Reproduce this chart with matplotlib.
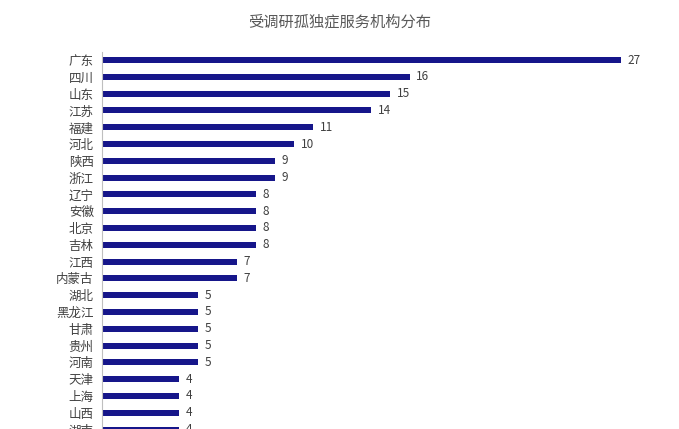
import matplotlib
matplotlib.use('Agg')
import matplotlib.pyplot as plt

plt.rcParams['font.family'] = ['Noto Sans CJK SC', 'DejaVu Sans']

provinces = ['广东', '四川', '山东', '江苏', '福建', '河北', '陕西', '浙江', '辽宁', '安徽',
             '北京', '吉林', '江西', '内蒙古', '湖北', '黑龙江', '甘肃', '贵州', '河南',
             '天津', '上海', '山西', '湖南']
counts = [27, 16, 15, 14, 11, 10, 9, 9, 8, 8, 8, 8, 7, 7, 5, 5, 5, 5, 5, 4, 4, 4, 4]

W, H = 679, 429
fig = plt.figure(figsize=(W / 100, H / 100), dpi=100)
top_px, bot_px = 51.6, 438.0
ax = fig.add_axes([102 / W, (H - bot_px) / H, 519 / W, (bot_px - top_px) / H])

y = list(range(len(provinces)))
ax.barh(y, counts, height=0.36, color='#16168a')
ax.set_xlim(0, 27)
ax.set_ylim(len(provinces) - 0.5, -0.5)
ax.set_yticks(y)
ax.set_yticklabels(provinces, fontsize=9, color='#404040')
ax.tick_params(axis='y', length=0, pad=6)
ax.set_xticks([])
for s in ['top', 'right', 'bottom']:
    ax.spines[s].set_visible(False)
ax.spines['left'].set_color('#bfbfbf')

for yi, v in zip(y, counts):
    ax.text(v + 0.35, yi, str(v), va='center', ha='left', fontsize=8.5,
            color='#404040', clip_on=False)

fig.text(0.5, 1 - 22 / H, '受调研孤独症服务机构分布', ha='center', va='center',
         fontsize=11, color='#595959')

fig.savefig('out.png', dpi=100)
